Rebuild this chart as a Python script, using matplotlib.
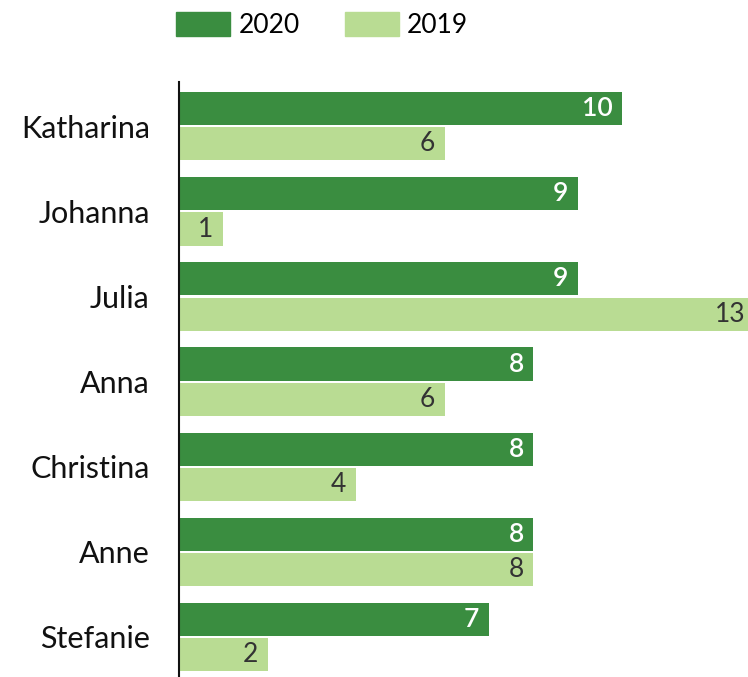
import matplotlib.pyplot as plt
import numpy as np
from matplotlib.patches import Patch

names = ["Katharina", "Johanna", "Julia", "Anna", "Christina", "Anne", "Stefanie"]
counts_2020 = [10, 9, 9, 8, 8, 8, 7]
counts_2019 = [6, 1, 13, 6, 4, 8, 2]

dark = "#3a8d40"
light = "#b9dc93"

plt.rcParams['font.family'] = ['Lato', 'DejaVu Sans']

fig = plt.figure(figsize=(7.48, 6.77), dpi=100)
ax = fig.add_axes([179 / 748, 0, 1 - 179 / 748, 1 - 82 / 677])

y = np.arange(len(names))
h = 0.39
bars20 = ax.barh(y - h / 2 - 0.012, counts_2020, height=h, color=dark)
bars19 = ax.barh(y + h / 2 + 0.012, counts_2019, height=h, color=light)

# value labels sit just inside the bar ends
for bar, v in zip(bars20, counts_2020):
    ax.annotate(str(v), (v, bar.get_y() + bar.get_height() / 2), xytext=(-7, 0),
                textcoords="offset points", ha="right", va="center",
                color="white", fontsize=19, fontweight="semibold",
                annotation_clip=False)
for bar, v in zip(bars19, counts_2019):
    ax.annotate(str(v), (v, bar.get_y() + bar.get_height() / 2), xytext=(-7, 0),
                textcoords="offset points", ha="right", va="center",
                color="#333333", fontsize=19, annotation_clip=False)

ax.set_xlim(0, 569 / 44.3)
ax.set_ylim(len(names) - 1 + 0.47, -0.52)
ax.set_yticks(y)
ax.set_yticklabels(names, fontsize=22, color="#111111")
ax.tick_params(axis="y", length=0, pad=21)
ax.set_xticks([])
for side in ["top", "right", "bottom"]:
    ax.spines[side].set_visible(False)
ax.spines["left"].set_linewidth(1.5)
ax.spines["left"].set_color("#111111")

handles = [Patch(color=dark, label="2020"), Patch(color=light, label="2019")]
fig.legend(handles=handles, loc="center", bbox_to_anchor=(0.4305, 0.963), ncol=2,
           frameon=False, fontsize=19, handlelength=2.05, handleheight=1.05,
           handletextpad=0.3, columnspacing=1.7)

fig.savefig("out.png", dpi=100)
